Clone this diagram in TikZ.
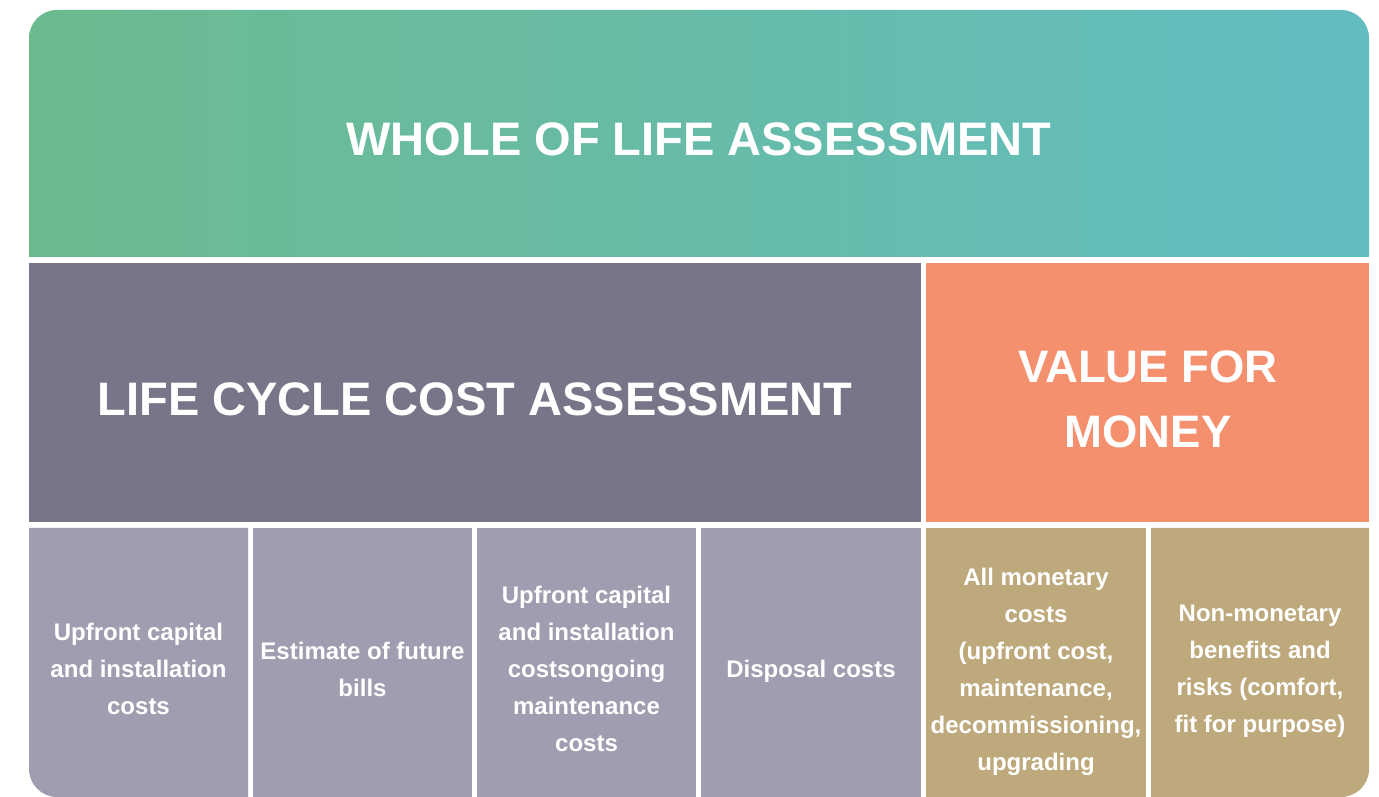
\documentclass[tikz,border=0pt]{standalone}
\usepackage{fontspec}
\setmainfont{Liberation Sans}
\definecolor{wolA}{HTML}{6BBB8F}
\definecolor{wolB}{HTML}{62BCC0}
\definecolor{lcc}{HTML}{787589}
\definecolor{vfm}{HTML}{F5906F}
\definecolor{lccsub}{HTML}{A19CAF}
\definecolor{vfmsub}{HTML}{BDA97B}
\tikzset{
  bigtitle/.style={text=white, font=\bfseries\fontsize{47}{65}\selectfont, align=center, inner sep=0pt},
  subtext/.style={text=white, font=\bfseries\fontsize{24}{37}\selectfont, align=center, inner sep=0pt},
}
\begin{document}
\begin{tikzpicture}[x=1pt,y=1pt]
\useasboundingbox (0,0) rectangle (1379,797);
% top band with gradient, rounded on the top corners only
\shade[left color=wolA, right color=wolB]
  (29,540) -- (29,759) arc[start angle=180,end angle=90,radius=28]
  -- (1341,787) arc[start angle=90,end angle=0,radius=28]
  -- (1369,540) -- cycle;
% middle row
\fill[lcc] (29,275) rectangle (921,534);
\fill[vfm] (926,275) rectangle (1369,534);
% bottom row
\fill[lccsub] (29,269) -- (29,28) arc[start angle=180,end angle=270,radius=28]
  -- (248,0) -- (248,269) -- cycle;
\fill[lccsub] (253,0) rectangle (472,269);
\fill[lccsub] (477,0) rectangle (696,269);
\fill[lccsub] (701,0) rectangle (921,269);
\fill[vfmsub] (926,0) rectangle (1146,269);
\fill[vfmsub] (1151,269) -- (1151,0) -- (1341,0)
  arc[start angle=270,end angle=360,radius=28] -- (1369,269) -- cycle;
% labels
\node[bigtitle] (wol) at (699,658) {WHOLE OF LIFE ASSESSMENT};
\node[bigtitle] (lcca) at (475,398) {LIFE CYCLE COST ASSESSMENT};
\node[bigtitle, font=\bfseries\fontsize{45.5}{65}\selectfont] (vfmt) at (1148,397.5) {VALUE FOR\\MONEY};
\node[subtext] (s1) at (138.5,128) {Upfront capital\\and installation\\costs};
\node[subtext] (s2) at (362.5,128) {Estimate of future\\bills};
\node[subtext] (s3) at (586.5,128) {Upfront capital\\and installation\\costsongoing\\maintenance\\costs};
\node[subtext] (s4) at (811,126) {Disposal costs};
\node[subtext] (s5) at (1036,125) {All monetary\\costs\\(upfront cost,\\maintenance,\\decommissioning,\\upgrading};
\node[subtext] (s6) at (1260,126) {Non-monetary\\benefits and\\risks (comfort,\\fit for purpose)};
\end{tikzpicture}
\end{document}
